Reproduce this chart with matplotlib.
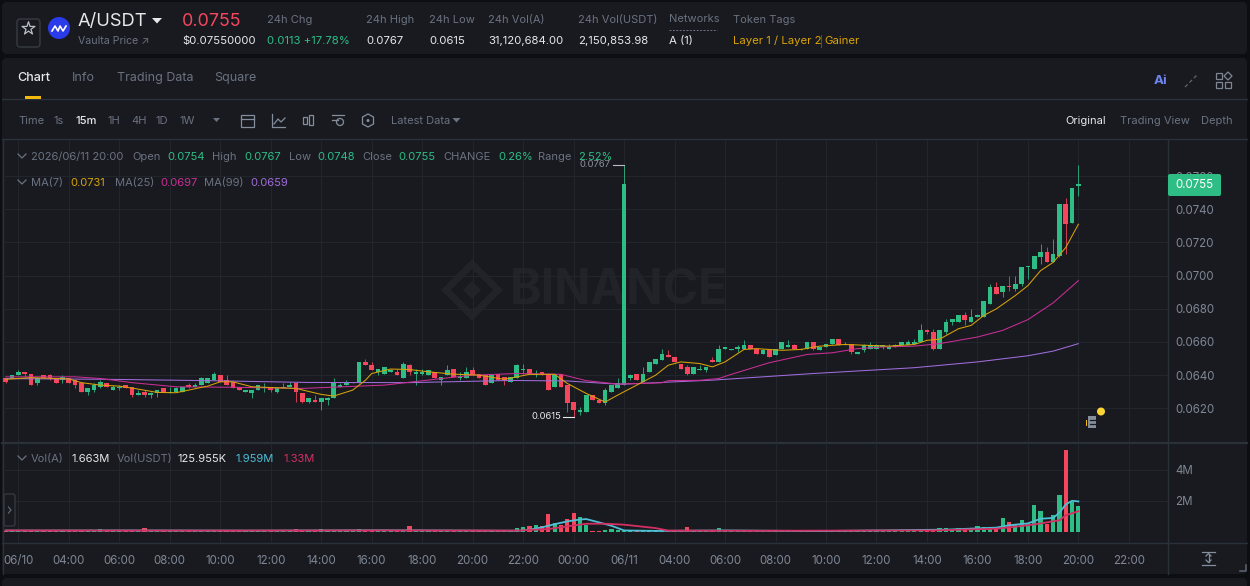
"""A/USDT 15m candlestick view with moving averages and a volume pane, dark theme."""

import matplotlib
matplotlib.use("Agg")
import matplotlib.pyplot as plt
from matplotlib.patches import FancyBboxPatch, Circle, Rectangle, Polygon
import numpy as np

# prices are kept in ten-thousandths, one list entry per 15m candle
opens = [638, 638, 640, 642, 641, 635, 640, 640, 638, 637, 638, 637, 635, 630, 631, 633, 635, 631, 632, 634,
         633, 628, 630, 628, 629, 632, 629, 630, 630, 634, 633, 634, 635, 637, 640, 637, 636, 633, 630, 629,
         631, 632, 633, 630, 632, 633, 635, 629, 624, 625, 624, 625, 626, 633, 634, 635, 635, 648, 646, 642,
         641, 642, 642, 638, 646, 641, 641, 640, 642, 637, 640, 644, 638, 638, 643, 641, 640, 635, 641, 639,
         636, 638, 643, 644, 640, 642, 641, 633, 641, 634, 624, 618, 618, 628, 625, 623, 630, 632, 634, 638,
         641, 636, 642, 647, 649, 652, 651, 647, 645, 641, 643, 643, 649, 648, 656, 655, 656, 656, 658, 656,
         653, 655, 652, 656, 657, 658, 655, 656, 660, 655, 657, 659, 662, 658, 659, 653, 655, 656, 656, 657,
         656, 657, 658, 658, 659, 660, 667, 666, 656, 666, 672, 672, 676, 672, 675, 675, 683, 693, 690, 694,
         692, 695, 705, 704, 711, 714, 708, 712, 743, 732, 754]
closes = [636, 640, 642, 641, 634, 638, 638, 638, 635, 639, 635, 634, 630, 632, 634, 636, 633, 633, 633, 632,
          628, 629, 628, 629, 631, 630, 630, 632, 633, 633, 634, 638, 638, 641, 636, 634, 632, 631, 631, 631,
          634, 633, 631, 632, 633, 634, 630, 624, 626, 624, 626, 626, 635, 634, 636, 636, 648, 646, 643, 644,
          645, 643, 640, 647, 642, 642, 642, 643, 638, 639, 643, 639, 639, 642, 640, 638, 634, 640, 637, 637,
          639, 646, 644, 641, 641, 640, 631, 641, 633, 623, 619, 619, 628, 625, 623, 631, 634, 635, 755, 640,
          637, 641, 648, 650, 653, 651, 648, 644, 641, 645, 644, 645, 648, 656, 657, 656, 657, 658, 656, 653,
          655, 651, 656, 660, 658, 656, 656, 660, 656, 657, 659, 662, 658, 659, 654, 654, 658, 658, 658, 658,
          657, 658, 660, 660, 660, 667, 666, 656, 667, 672, 674, 676, 673, 675, 676, 685, 693, 689, 694, 693,
          695, 705, 706, 712, 714, 708, 713, 743, 731, 753, 755]
highs = [638, 640, 643, 642, 641, 639, 640, 641, 638, 640, 638, 637, 636, 632, 635, 637, 635, 634, 634, 634,
         633, 631, 631, 630, 631, 632, 633, 633, 633, 635, 635, 639, 638, 642, 640, 640, 636, 633, 631, 631,
         634, 635, 633, 632, 635, 636, 635, 629, 626, 628, 626, 627, 638, 635, 637, 636, 648, 650, 648, 644,
         645, 644, 644, 648, 647, 644, 644, 643, 642, 639, 646, 644, 642, 645, 645, 641, 640, 640, 641, 639,
         639, 647, 647, 644, 643, 642, 641, 641, 641, 634, 624, 621, 628, 628, 625, 632, 634, 638, 767, 641,
         641, 645, 648, 650, 656, 655, 651, 647, 646, 645, 646, 645, 651, 658, 657, 656, 658, 661, 658, 656,
         656, 655, 656, 660, 661, 659, 656, 660, 660, 657, 659, 662, 662, 660, 659, 654, 659, 660, 659, 658,
         659, 659, 660, 661, 662, 671, 668, 668, 667, 674, 674, 676, 678, 680, 677, 685, 695, 696, 694, 700,
         700, 705, 706, 712, 719, 717, 722, 743, 747, 753, 767]
lows = [635, 638, 640, 639, 634, 634, 638, 637, 635, 635, 635, 632, 630, 628, 630, 632, 633, 631, 631, 632,
        627, 628, 627, 626, 627, 630, 629, 630, 630, 632, 633, 634, 635, 637, 636, 634, 632, 631, 630, 626,
        631, 630, 630, 629, 632, 633, 624, 623, 623, 624, 619, 622, 626, 633, 634, 635, 635, 646, 643, 640,
        641, 642, 640, 638, 640, 634, 640, 640, 638, 634, 640, 639, 637, 638, 640, 638, 634, 635, 637, 634,
        636, 638, 641, 641, 639, 640, 631, 633, 633, 618, 615, 616, 618, 625, 623, 622, 630, 632, 634, 637,
        637, 636, 642, 647, 649, 651, 648, 644, 640, 641, 643, 642, 648, 648, 656, 655, 654, 656, 656, 653,
        653, 651, 652, 656, 657, 656, 655, 656, 655, 655, 657, 659, 658, 658, 653, 653, 654, 656, 656, 656,
        656, 657, 658, 658, 659, 660, 665, 655, 656, 665, 670, 672, 670, 672, 675, 675, 683, 689, 687, 691,
        691, 694, 698, 704, 707, 708, 708, 711, 713, 732, 748]

# traded volume per candle, in millions of A
volumes = [.06, .05, .08, .06, .12, .07, .05, .06, .09, .07, .06, .08, .12, .10, .09, .20, .08, .06, .05, .07,
           .14, .07, .25, .10, .06, .09, .07, .06, .09, .05, .06, .10, .09, .14, .10, .12, .09, .06, .05, .10,
           .12, .07, .08, .06, .05, .07, .22, .12, .06, .08, .21, .07, .12, .06, .05, .06, .22, .14, .10, .06,
           .08, .05, .12, .08, .40, .14, .07, .06, .10, .06, .07, .10, .05, .06, .09, .07, .10, .07, .08, .06,
           .08, .25, .32, .36, .45, .36, 1.15, .58, .47, .83, 1.22, .96, .47, .09, .05, .15, .17, .10, .08, .06,
           .05, .05, .06, .06, .07, .05, .06, .09, .32, .06, .05, .06, .05, .24, .10, .07, .06, .05, .07, .06,
           .06, .08, .07, .09, .05, .06, .04, .07, .06, .05, .05, .07, .06, .04, .10, .05, .08, .06, .05, .05,
           .05, .06, .09, .08, .07, .22, .07, .18, .25, .25, .20, .25, .17, .19, .40, .32, .34, .21, .88, .66,
           .49, .77, .49, 1.71, 1.35, .53, 1.07, 2.35, 5.24, 1.94, 1.663]

# moving averages, candle number and value in ten-thousandths
ma7_k = [1, 5, 11, 13, 16, 19, 22, 25, 28, 30, 33, 35, 37, 40, 44, 47, 51, 53, 56, 58, 59, 62, 65, 68, 72, 76, 80,
         84, 88, 90, 93, 96, 98, 101, 104, 106, 108, 111, 113, 115, 118, 120, 124, 127, 130, 134, 141, 145, 147,
         149, 152, 154, 156, 158, 161, 163, 165, 167, 169, 171]
ma7_vals = [637.5, 638.5, 637.7, 635.5, 634, 633.4, 631.6, 629.6, 629.4, 631, 633.4, 636, 636, 633, 632.4, 632,
            628.4, 627.4, 631, 636.9, 641, 643.7, 643.4, 642, 640.6, 640, 637.5, 640.5, 640.5, 635, 629, 623.8,
            628, 634, 640, 646, 648, 647, 645, 648, 655.5, 656, 655, 655.5, 657.5, 658.5, 657.5, 658.5, 661,
            661.7, 668, 670, 676, 680, 688, 694, 703, 708, 717, 731]
ma25_k = [1, 12, 16, 21, 28, 37, 48, 61, 69, 75, 82, 89, 93, 98, 105, 106, 111, 114, 116, 119, 122, 125, 128, 132,
          136, 140, 145, 149, 155, 159, 163, 167, 171]
ma25_vals = [639, 639, 638, 635.5, 633, 632.7, 632, 634, 637.5, 640, 641, 640.5, 636.7, 634.6, 635.4, 636.7, 636.9,
             638, 640.5, 644, 647.5, 650, 652.5, 653.5, 656, 657, 657.5, 659, 663, 667, 673.5, 683.6, 697]
ma99_k = [1, 17, 33, 49, 65, 81, 90, 97, 99, 113, 129, 145, 155, 163, 167, 171]
ma99_vals = [637.9, 637.5, 636.7, 635.6, 635.5, 636.8, 636.5, 634.8, 634.6, 637, 641, 644.5, 648, 651.7, 654.5, 659]

vol_fast_k = [1, 20, 40, 60, 70, 82, 84, 86, 88, 90, 92, 93, 95, 97, 99, 104, 115, 130, 150, 158, 160, 163, 165,
              167, 168, 169, 170, 171]
vol_fast = [.09, .10, .09, .11, .10, .08, .14, .30, .50, .68, .80, .83, .62, .40, .10, .07, .10, .06, .15, .28,
            .43, .55, .85, .90, 1.24, 1.77, 2.0, 1.959]
vol_slow_k = [1, 30, 60, 82, 87, 90, 93, 96, 99, 104, 106, 120, 148, 158, 163, 165, 168, 169, 171]
vol_slow = [.10, .09, .10, .09, .19, .36, .53, .53, .47, .25, .09, .08, .10, .21, .43, .55, .75, 1.07, 1.33]

price_ticks = [620, 640, 660, 680, 700, 720, 740, 760]
vol_ticks = [2, 4]
time_ticks = [3 + 8 * i for i in range(23)]
time_labels = ["06/10", "04:00", "06:00", "08:00", "10:00", "12:00", "14:00", "16:00", "18:00", "20:00", "22:00",
               "00:00", "06/11", "04:00", "06:00", "08:00", "10:00", "12:00", "14:00", "16:00", "18:00", "20:00",
               "22:00"]

# top strip: label, value, x position
stats = [("24h Chg", None, 267), ("24h High", "0.0767", 366), ("24h Low", "0.0615", 429),
         ("24h Vol(A)", "31,120,684.00", 488), ("24h Vol(USDT)", "2,150,853.98", 578)]
ohlc_legend = [("2026/06/11 20:00", "gray", 31), ("Open", "gray", 132), ("0.0754", "green", 167),
               ("High", "gray", 212), ("0.0767", "green", 244), ("Low", "gray", 289), ("0.0748", "green", 317),
               ("Close", "gray", 362), ("0.0755", "green", 398), ("CHANGE", "gray", 443), ("0.26%", "green", 498),
               ("Range", "gray", 538), ("2.52%", "green", 578)]

BG = "#0c0e12"
PANEL = "#181a20"
GRID = "#21262d"
EDGE = "#2b3139"
GREEN = "#2ebd85"
RED = "#f6465d"
GRAY = "#6b7280"
AXIS_TEXT = "#7f8794"
WHITE = "#e6e8ea"
GOLD = "#d9a307"
PINK = "#c92f94"
PURPLE = "#a06ddb"
CYAN = "#4fbfd6"
ROSE = "#d42f63"
MARK = "#212329"
FONT = "Inter"
W, H = 1250, 586

plt.rcParams["font.family"] = [FONT, "DejaVu Sans"]


def pane(fig, left, top, right, bottom, zorder):
    """Axes placed by its pixel box, y measured from the top."""
    ax = fig.add_axes([left / W, 1 - bottom / H, (right - left) / W, (bottom - top) / H], zorder=zorder)
    ax.patch.set_visible(False)
    return ax


def label(ax, x, y, text, color=GRAY, size=8, ha="left", **kw):
    # nudged down so the glyphs sit on the row centre
    return ax.text(x, y + 1, text, color=color, fontsize=size, ha=ha, va="center", **kw)


fig = plt.figure(figsize=(W / 100, H / 100), dpi=100, facecolor=BG)

# panels behind everything
base = pane(fig, 0, 0, W, H, 0)
base.set_xlim(0, W)
base.set_ylim(H, 0)
base.axis("off")
for x0, y0, x1, y1 in [(2, 2, 1247, 54), (2, 58, 1247, 574), (2, 578, 1247, 600)]:
    base.add_patch(FancyBboxPatch((x0 + 5, y0 + 5), x1 - x0 - 10, y1 - y0 - 10, boxstyle="round,pad=5",
                                  fc=PANEL, ec="none"))

# faint watermark
base.add_patch(Polygon([(472, 264), (498, 290), (472, 316), (446, 290)], closed=True, fc="none", ec=MARK, lw=5))
base.add_patch(Polygon([(472, 281), (481, 290), (472, 299), (463, 290)], closed=True, fc=MARK, ec="none"))
label(base, 510, 290, "BINANCE", color=MARK, size=34.5, fontweight="bold")

# separators of the chart block
base.plot([2, 1247], [99, 99], color=EDGE, lw=1)
base.plot([2, 1247], [139, 139], color=EDGE, lw=1)
base.plot([2, 1247], [442.5, 442.5], color=EDGE, lw=1.6)
base.plot([2, 1247], [542.5, 542.5], color=EDGE, lw=1)
base.plot([1168, 1168], [139, 574], color=EDGE, lw=1)
base.plot([2.5, 2.5], [139, 574], color=EDGE, lw=1)

# candle number to pixel: first candle at x=5.7, 6.31 px apart
k_left = 1 + (2 - 5.7) / 6.31
k_right = 1 + (1168 - 5.7) / 6.31
k = np.arange(1, len(opens) + 1)

o = np.array(opens) * 1e-4
c = np.array(closes) * 1e-4
hi = np.array(highs) * 1e-4
lo = np.array(lows) * 1e-4
up = c >= o
colors = np.where(up, GREEN, RED)

price_ax = pane(fig, 2, 140, 1168, 442, 1)
price_ax.set_xlim(k_left, k_right)
price_ax.set_ylim(0.05997, 0.07818)
price_ax.vlines(k, lo, hi, colors=colors, lw=0.72, alpha=0.8, zorder=3)
price_ax.bar(k, np.maximum(np.abs(c - o), 1e-5), bottom=np.minimum(o, c), width=0.74, color=colors, zorder=4)
price_ax.plot(ma99_k, np.array(ma99_vals) * 1e-4, color=PURPLE, lw=0.75, zorder=5)
price_ax.plot(ma25_k, np.array(ma25_vals) * 1e-4, color=PINK, lw=0.75, zorder=6)
price_ax.plot(ma7_k, np.array(ma7_vals) * 1e-4, color=GOLD, lw=0.75, zorder=7)
price_ax.set_yticks(np.array(price_ticks) * 1e-4)
price_ax.set_yticklabels([f"{t * 1e-4:.4f}" for t in price_ticks])
price_ax.yaxis.tick_right()
price_ax.set_xticks(time_ticks)
price_ax.tick_params(axis="x", length=0, labelbottom=False)
price_ax.tick_params(axis="y", length=0, pad=5, labelsize=8.3, labelcolor=AXIS_TEXT)
price_ax.grid(True, color=GRID, lw=0.8, zorder=0)
price_ax.set_axisbelow(True)
for s in price_ax.spines.values():
    s.set_visible(False)

# high and low call-outs
price_ax.plot([97.2, 99], [0.0767, 0.0767], color="#b7bdc6", lw=0.8, zorder=8)
price_ax.text(96.9, 0.0767, "0.0767", color="#8b929c", fontsize=6.8, ha="right", va="center", zorder=8)
price_ax.plot([89.3, 91], [0.0615, 0.0615], color=WHITE, lw=0.8, zorder=8)
price_ax.text(89, 0.0615, "0.0615", color=WHITE, fontsize=6.8, ha="right", va="center", zorder=8)

vol_ax = pane(fig, 2, 443, 1168, 543, 1)
vol_ax.set_xlim(k_left, k_right)
vol_ax.set_ylim(-0.705, 5.705)
vol_ax.bar(k, volumes, width=0.66, color=colors, zorder=3)
vol_ax.plot(vol_fast_k, vol_fast, color=CYAN, lw=1.3, zorder=4)
vol_ax.plot(vol_slow_k, vol_slow, color=ROSE, lw=1.3, zorder=5)
vol_ax.set_yticks(vol_ticks)
vol_ax.set_yticklabels([f"{t}M" for t in vol_ticks])
vol_ax.yaxis.tick_right()
vol_ax.set_xticks(time_ticks)
vol_ax.set_xticklabels(time_labels)
vol_ax.tick_params(axis="x", length=0, pad=8.5, labelsize=8.3, labelcolor=AXIS_TEXT)
vol_ax.tick_params(axis="y", length=0, pad=5, labelsize=8.3, labelcolor=AXIS_TEXT)
vol_ax.grid(True, color=GRID, lw=0.8, zorder=0)
vol_ax.set_axisbelow(True)
for s in vol_ax.spines.values():
    s.set_visible(False)

# interface layer: text and small icons in pixel coordinates
ui = pane(fig, 0, 0, W, H, 2)
ui.set_xlim(0, W)
ui.set_ylim(H, 0)
ui.axis("off")

# header strip
ui.add_patch(FancyBboxPatch((20, 22), 17, 22, boxstyle="round,pad=3", fc="none", ec="#3a3f47", lw=0.9))
ui.scatter([28.5], [28.5], marker="*", s=95, facecolors="none", edgecolors="#b7bdc6", lw=0.9)
ui.add_patch(Circle((59, 28), 11, fc="#2a3bea", ec="none"))
ui.plot([52, 55, 58, 60, 63, 66], [31, 26, 31, 26, 31, 26], color="white", lw=1.2)
label(ui, 78, 21, "A/USDT", color=WHITE, size=13.2)
ui.add_patch(Polygon([(152, 18), (162, 18), (157, 23.5)], closed=True, fc=WHITE, ec="none"))
label(ui, 78, 40, "Vaulta Price ↗", size=7.6)
label(ui, 182, 21, "0.0755", color=RED, size=12.9)
label(ui, 182, 40, "$0.07550000", color=WHITE, size=8.2)
label(ui, 267, 40, "0.0113 +17.78%", color=GREEN, size=8.2)
for name, value, x in stats:
    label(ui, x, 19, name, size=8)
    if value:
        label(ui, x, 40, value, color=WHITE, size=8.2)
label(ui, 669, 18, "Networks", size=8)
ui.plot([669, 717], [29.5, 29.5], color=GRAY, lw=0.7, ls=(0, (2, 1.5)))
label(ui, 669, 40, "A (1)", color=WHITE, size=8.2)
label(ui, 733, 19, "Token Tags", size=8)
label(ui, 733, 40, "Layer 1 / Layer 2", color=GOLD, size=8.2)
label(ui, 820, 40, "|", color="#5a5f68", size=7)
label(ui, 824, 40, "Gainer", color=GOLD, size=8.2)

# tabs
label(ui, 17, 77, "Chart", color=WHITE, size=9, fontweight="medium")
label(ui, 72, 77, "Info", size=9)
label(ui, 117, 77, "Trading Data", size=9)
label(ui, 214, 77, "Square", size=9)
ui.add_patch(Rectangle((25, 96), 16, 3, fc="#f0b90b", ec="none"))
label(ui, 1160, 80, "Ai", color="#6f86f2", size=9.6, ha="center", fontweight="bold")
ui.plot([1185, 1197], [87, 75], color="#5e6673", lw=0.9, ls=(0, (3, 2)))
for x0, y0 in [(1216, 73), (1216, 82), (1225, 82)]:
    ui.add_patch(Rectangle((x0, y0), 6, 6, fc="none", ec="#7f8794", lw=0.9))
ui.add_patch(Polygon([(1228, 72), (1232, 76), (1228, 80), (1224, 76)], closed=True, fc="none", ec="#7f8794", lw=0.9))

# toolbar
label(ui, 18, 120, "Time", size=8)
for text, x, col in [("1s", 53, GRAY), ("15m", 75, WHITE), ("1H", 107, GRAY), ("4H", 131, GRAY), ("1D", 156, GRAY),
                     ("1W", 180, GRAY)]:
    label(ui, x, 120, text, color=col, size=8, fontweight="medium" if col == WHITE else "normal")
ui.add_patch(Polygon([(213, 118), (220, 118), (216.5, 122)], closed=True, fc=GRAY, ec="none"))
ui.add_patch(Rectangle((241, 115), 13, 12, fc="none", ec="#848e9c", lw=0.9))
ui.plot([241, 254], [118.5, 118.5], color="#848e9c", lw=0.9)
ui.plot([272, 272, 285], [114, 127, 127], color="#848e9c", lw=0.9)
ui.plot([274, 278, 281, 285], [124, 119, 122, 118], color="#848e9c", lw=0.9)
ui.add_patch(Rectangle((303, 117), 4, 7, fc="none", ec="#848e9c", lw=0.9))
ui.add_patch(Rectangle((309, 115), 4, 10, fc="none", ec="#848e9c", lw=0.9))
ui.plot([332, 344], [115, 115], color="#848e9c", lw=0.9)
ui.plot([332, 338], [120, 120], color="#848e9c", lw=0.9)
ui.add_patch(Circle((340, 122), 3.5, fc="none", ec="#848e9c", lw=0.9))
ui.add_patch(Polygon([(368, 114), (373.5, 117), (373.5, 124), (368, 127), (362.5, 124), (362.5, 117)], closed=True,
                     fc="none", ec="#848e9c", lw=0.9))
ui.add_patch(Circle((368, 120.5), 1.5, fc="#848e9c", ec="none"))
label(ui, 391, 120, "Latest Data", size=8)
ui.add_patch(Polygon([(452.5, 118), (460.5, 118), (456.5, 122.5)], closed=True, fc=GRAY, ec="none"))
label(ui, 1065, 120, "Original", color=WHITE, size=8)
label(ui, 1120, 120, "Trading View", size=8)
label(ui, 1201, 120, "Depth", size=8)

# legends inside the panes
for y in [156, 182, 458]:
    ui.plot([18, 22, 26], [y - 2, y + 2, y - 2], color=GRAY, lw=0.9)
for text, kind, x in ohlc_legend:
    label(ui, x, 156, text, color=GREEN if kind == "green" else GRAY, size=8)
for text, col, x in [("MA(7)", GRAY, 31), ("0.0731", GOLD, 70), ("MA(25)", GRAY, 115), ("0.0697", PINK, 160),
                     ("MA(99)", GRAY, 204), ("0.0659", PURPLE, 250)]:
    label(ui, x, 182, text, color=col, size=8)
for text, col, x in [("Vol(A)", GRAY, 31), ("1.663M", WHITE, 71), ("Vol(USDT)", GRAY, 117), ("125.955K", WHITE, 178),
                     ("1.959M", CYAN, 236), ("1.33M", ROSE, 283)]:
    label(ui, x, 458, text, color=col, size=8)

# last price box over the axis
ui.add_patch(FancyBboxPatch((1170, 176), 49, 18, boxstyle="round,pad=2", fc=GREEN, ec="none"))
label(ui, 1194.5, 184.5, "0.0755", color="white", size=8.3, ha="center")

# side handle, notes icon, axis toggle
ui.add_patch(FancyBboxPatch((6, 496), 7, 28, boxstyle="round,pad=2", fc=PANEL, ec="#3a3f47", lw=0.8))
ui.plot([8.5, 11, 8.5], [507, 510, 513], color="#5e6673", lw=0.9)
ui.add_patch(Rectangle((1088, 416), 8, 12, fc="#848e9c", ec="none"))
ui.plot([1089.5, 1094.5], [420, 420], color=PANEL, lw=0.9)
ui.plot([1089.5, 1094.5], [424, 424], color=PANEL, lw=0.9)
ui.add_patch(Rectangle((1085.5, 420), 1.3, 6, fc="#f0b90b", ec="none"))
ui.add_patch(Circle((1101, 411.5), 4, fc="#fcd535", ec="none"))
ui.plot([1202, 1215], [551.5, 551.5], color="#848e9c", lw=0.9)
ui.plot([1202, 1215], [564.5, 564.5], color="#848e9c", lw=0.9)
ui.plot([1208.5, 1208.5], [554, 562], color="#848e9c", lw=0.9)
ui.plot([1206, 1208.5, 1211], [556, 553.5, 556], color="#848e9c", lw=0.9)
ui.plot([1206, 1208.5, 1211], [560, 562.5, 560], color="#848e9c", lw=0.9)
ui.plot([1240, 1246, 1246], [571, 571, 565], color="#5e6673", lw=1.1)

fig.savefig("out.png", dpi=100, facecolor=BG)
